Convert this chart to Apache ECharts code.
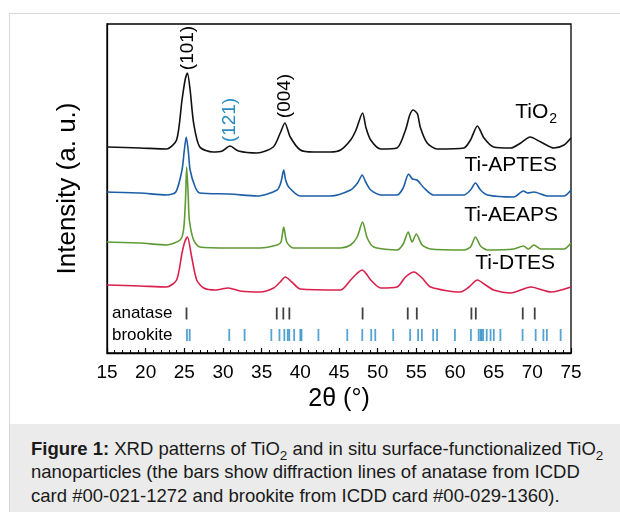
<!DOCTYPE html>
<html>
<head>
<meta charset="utf-8">
<script src="https://cdn.jsdelivr.net/npm/echarts@6/dist/echarts.min.js"></script>
<style>
  html, body { margin: 0; padding: 0; background: #fff; }
  #frame {
    position: absolute; left: 9px; top: 13px; width: 611px; height: 499px;
    border-left: 1px solid #d9d9d9; border-top: 1px solid #d9d9d9;
  }
  #chart { position: absolute; left: 0; top: 0; width: 620px; height: 512px; }
  #caption {
    position: absolute; left: 10px; top: 424px; width: 610px; height: 88px;
    background: #ebebeb; box-sizing: border-box; padding: 13px 0 0 21px;
    font-family: "Liberation Sans", Arial, sans-serif; font-size: 18.5px;
    line-height: 23.4px; color: #1a1a1a; white-space: nowrap;
  }
  #caption sub { font-size: 13.5px; line-height: 0; }
</style>
</head>
<body>
<div id="frame"></div>
<div id="chart"></div>
<div id="caption">
  <b>Figure 1:</b> XRD patterns of TiO<sub>2</sub> and in situ surface-functionalized TiO<sub>2</sub><br>
  nanoparticles (the bars show diffraction lines of anatase from ICDD<br>
  card #00-021-1272 and brookite from ICDD card #00-029-1360).
</div>
<script>
// 2θ (°), intensity (a. u., curves offset for display)
const tio2 = [
  [15.0, 206], [19.3, 205], [22.7, 204], [24.0, 213], [24.7, 253], [25.1, 273], [25.4, 280],
  [25.75, 263], [26.2, 230], [27.0, 206], [28.7, 201], [29.9, 202], [30.9, 207], [32.0, 202],
  [34.4, 200], [36.5, 206], [37.4, 220], [38.0, 230], [38.7, 216], [40.0, 203], [41.7, 201],
  [43.9, 201], [45.2, 203], [46.5, 213], [47.2, 223], [48.05, 240], [48.5, 225], [49.1, 213],
  [50.4, 204], [52.5, 205], [53.6, 223], [54.15, 238], [54.6, 243], [55.15, 239], [55.5, 226],
  [56.4, 210], [57.7, 204], [61.15, 205], [62.0, 213], [62.9, 227], [63.75, 215], [65.0, 206],
  [67.2, 205], [68.5, 210], [69.7, 216], [71.1, 211], [72.8, 205], [74.1, 208], [75.0, 215]
];
const tiAptes = [
  [15.0, 161], [19.3, 160], [22.7, 158], [23.9, 161], [24.7, 183], [25.0, 203], [25.25, 216],
  [25.5, 203], [25.75, 183], [26.4, 166], [27.0, 160], [30.9, 159], [34.4, 157], [37.0, 163],
  [37.5, 171], [37.85, 183], [38.1, 173], [38.5, 166], [40.0, 157], [43.9, 157], [46.5, 163],
  [47.4, 170], [48.0, 178], [48.45, 171], [49.1, 163], [50.4, 158], [52.5, 158], [53.3, 165],
  [54.0, 179], [54.5, 174], [55.1, 173], [56.0, 165], [57.2, 158], [61.15, 158], [62.0, 163],
  [62.65, 170], [63.3, 163], [64.2, 158], [67.6, 156], [68.85, 162], [69.4, 160], [70.2, 161],
  [72.0, 157], [74.1, 157], [75.0, 163]
];
const tiAeaps = [
  [15.0, 111], [19.3, 110], [22.7, 108], [24.45, 113], [24.9, 123], [25.15, 153], [25.3, 186],
  [25.5, 158], [25.65, 133], [26.2, 113], [27.0, 106], [30.9, 105], [34.8, 105], [37.0, 108],
  [37.5, 111], [37.85, 126], [38.25, 111], [39.1, 105], [45.2, 105], [46.5, 108], [47.35, 116],
  [48.05, 131], [48.65, 115], [49.5, 106], [52.5, 103], [53.3, 109], [53.95, 121], [54.45, 111],
  [55.0, 119], [55.75, 108], [56.85, 104], [61.15, 103], [62.0, 106], [62.65, 116], [63.3, 107],
  [64.2, 103], [67.6, 104], [68.85, 107], [69.5, 104], [70.2, 108], [71.1, 104], [74.1, 104],
  [75.0, 110]
];
const tiDtes = [
  [15.0, 68], [19.3, 67], [22.7, 66], [24.0, 73], [24.7, 100], [25.05, 111], [25.4, 116],
  [25.95, 96], [26.6, 73], [27.5, 65], [29.0, 63], [30.7, 65], [32.2, 62], [34.8, 61],
  [36.55, 65], [37.4, 71], [38.05, 76], [38.9, 71], [40.0, 64], [45.2, 63], [46.5, 73],
  [47.25, 79], [48.0, 83], [48.55, 79], [49.1, 73], [50.4, 65], [52.5, 66], [53.6, 76],
  [54.7, 81], [55.75, 75], [56.85, 66], [60.7, 61], [61.8, 66], [62.9, 73], [63.95, 68],
  [65.0, 63], [67.2, 60], [69.8, 66], [72.4, 61], [75.0, 66]
];
// reference lines (ICDD cards)
const anatase = [25.28, 36.95, 37.80, 38.58, 48.05, 53.89, 55.06, 62.12, 62.69, 68.76, 70.31];
const brookite = [25.34, 25.69, 30.81, 32.79, 36.25, 37.30, 37.93, 38.37, 38.57, 39.20, 40.0,
  40.15, 42.34, 46.07, 48.01, 49.17, 49.69, 52.01, 54.20, 55.23, 55.72, 57.18, 57.68, 59.99,
  62.06, 63.06, 63.30, 63.44, 63.64, 64.10, 64.60, 65.02, 65.87, 68.74, 70.43, 71.43, 71.88, 73.66];
const anataseLevel = 39.5;
const brookiteLevel = 18;
const xTicks = { min: 15, max: 75, step: 5 };

const font = '"Liberation Sans", Arial, sans-serif';

function curve(name, data, color) {
  return {
    name: name,
    type: "line",
    data: data,
    symbol: "none",
    smooth: 0.25,
    animation: false,
    lineStyle: { color: color, width: 1.6 },
  };
}

function label(text, x, y, size, color, rotate) {
  return {
    type: "text",
    x: x,
    y: y,
    rotation: rotate ? Math.PI / 2 : 0,
    style: {
      text: text,
      fill: color || "#000",
      font: size + "px " + font,
      textAlign: rotate ? "center" : "right",
      textVerticalAlign: "middle",
    },
  };
}

let myChart = echarts.init(document.getElementById("chart"));
let option = {
  animation: false,
  grid: {
    left: 107,
    top: 24,
    width: 464,
    height: 329,
    show: true,
    borderColor: "#000",
    borderWidth: 1.3,
  },
  xAxis: {
    type: "value",
    min: xTicks.min,
    max: xTicks.max,
    interval: xTicks.step,
    axisLine: { lineStyle: { color: "#000", width: 1.3 } },
    axisTick: { inside: true, length: 5, lineStyle: { color: "#000", width: 1.2 } },
    minorTick: { show: true, splitNumber: 5, length: 3, lineStyle: { color: "#000", width: 1 } },
    splitLine: { show: false },
    axisLabel: { color: "#000", fontSize: 19, fontFamily: font, margin: 10 },
    name: "2θ (°)",
    nameLocation: "middle",
    nameGap: 33,
    nameTextStyle: { color: "#000", fontSize: 25, fontFamily: font },
  },
  yAxis: {
    type: "value",
    min: 0,
    max: 329,
    axisLine: { show: true, lineStyle: { color: "#000", width: 1.3 } },
    axisTick: { show: false },
    axisLabel: { show: false },
    splitLine: { show: false },
    name: "Intensity (a. u.)",
    nameLocation: "middle",
    nameGap: 26,
    nameTextStyle: { color: "#000", fontSize: 26, fontFamily: font },
  },
  series: [
    curve("TiO2", tio2, "#111111"),
    curve("Ti-APTES", tiAptes, "#1c5ea8"),
    curve("Ti-AEAPS", tiAeaps, "#5e9a33"),
    curve("Ti-DTES", tiDtes, "#da1f4c"),
    {
      name: "anatase",
      type: "scatter",
      symbol: "rect",
      symbolSize: [1.8, 12],
      itemStyle: { color: "#111" },
      data: anatase.map((x) => [x, anataseLevel]),
    },
    {
      name: "brookite",
      type: "scatter",
      symbol: "rect",
      symbolSize: [1.8, 12],
      itemStyle: { color: "#2a8cc6" },
      data: brookite.map((x) => [x, brookiteLevel]),
    },
  ],
  graphic: [
    {
      type: "text",
      x: 557,
      y: 112,
      style: {
        text: "{a|TiO}{b|2}",
        textAlign: "right",
        textVerticalAlign: "middle",
        rich: {
          a: { fontSize: 21, fontFamily: font, fill: "#000" },
          b: { fontSize: 14, fontFamily: font, fill: "#000", padding: [14, 0, 0, 1] },
        },
      },
    },
    label("Ti-APTES", 557, 165, 21),
    label("Ti-AEAPS", 558, 215, 21),
    label("Ti-DTES", 555, 263, 21),
    label("(101)", 188, 48, 19, "#000", true),
    label("(121)", 230, 120, 19, "#2a8cc6", true),
    label("(004)", 285, 96, 19, "#000", true),
    { type: "text", x: 112, y: 313, style: { text: "anatase", fill: "#000", font: "17px " + font, textVerticalAlign: "middle" } },
    { type: "text", x: 112, y: 335, style: { text: "brookite", fill: "#000", font: "17px " + font, textVerticalAlign: "middle" } },
  ],
};
myChart.setOption(option);
</script>
</body>
</html>
